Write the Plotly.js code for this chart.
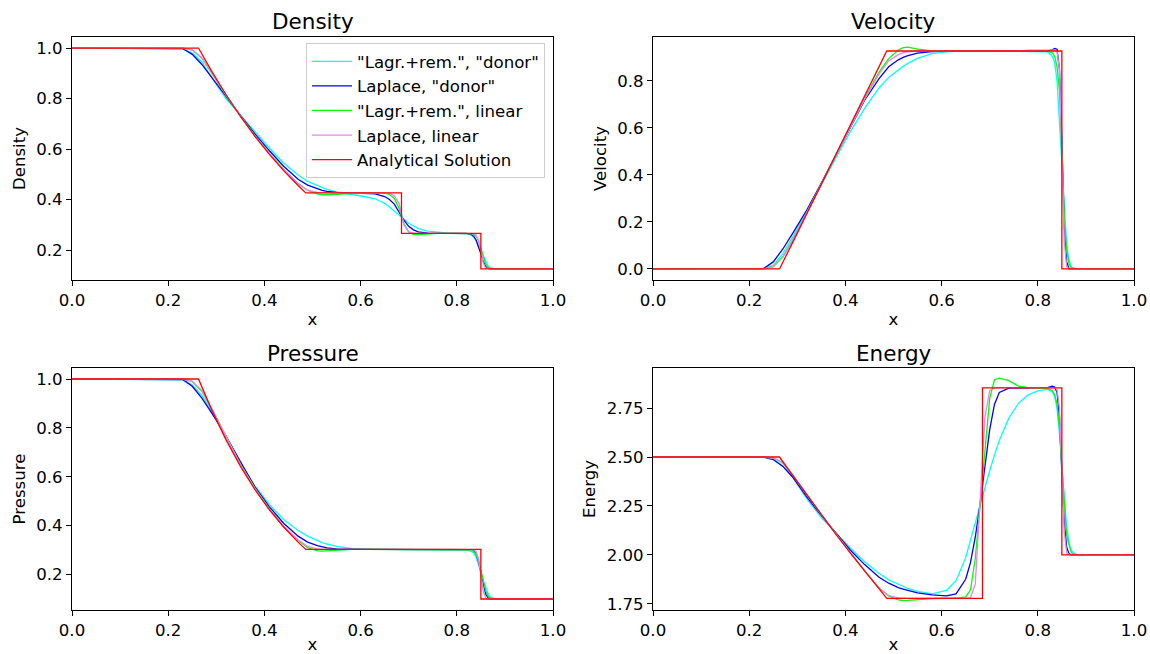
<!DOCTYPE html>
<html><head><meta charset="utf-8">
<script src="https://cdn.plot.ly/plotly-3.0.1.min.js"></script>
<style>html,body{margin:0;padding:0;background:#fff}#chart{width:1150px;height:654px}</style>
</head><body><div id="chart"></div><script>
// ---- data ----
const seriesNames = ['"Lagr.+rem.", "donor"', 'Laplace, "donor"', '"Lagr.+rem.", linear', 'Laplace, linear', 'Analytical Solution'];
const panelTitles = ['Density', 'Velocity', 'Pressure', 'Energy'];
const xTicks = [0, 0.2, 0.4, 0.6, 0.8, 1.0];
const densityTicks = [0.2, 0.4, 0.6, 0.8, 1.0];
const velocityTicks = [0.0, 0.2, 0.4, 0.6, 0.8];
const pressureTicks = [0.2, 0.4, 0.6, 0.8, 1.0];
const energyTicks = [1.75, 2.00, 2.25, 2.50, 2.75];

// numerical solutions (common x grid)
const xGrid = [0, 0.21, 0.23, 0.25, 0.27, 0.29,
  0.32, 0.35, 0.38, 0.41, 0.44, 0.47, 0.49,
  0.51, 0.52, 0.53, 0.55, 0.58, 0.61, 0.63,
  0.65, 0.66, 0.67, 0.68, 0.69, 0.70, 0.71, 0.72,
  0.74, 0.76, 0.78, 0.80, 0.82, 0.83,
  0.835, 0.84, 0.845, 0.85, 0.855, 0.86, 0.865, 0.87, 0.88, 1.0];

const densityLagrDonor = [1, 1, 0.997, 0.980, 0.945, 0.885,
  0.800, 0.735, 0.668, 0.604, 0.545, 0.497, 0.472,
  0.455, 0.447, 0.440, 0.430, 0.421, 0.411, 0.403,
  0.385, 0.370, 0.355, 0.339, 0.322, 0.306, 0.294, 0.285,
  0.275, 0.270, 0.267, 0.266, 0.264, 0.259,
  0.252, 0.238, 0.218, 0.195, 0.172, 0.152, 0.137, 0.129, 0.125, 0.125];
const densityLaplaceDonor = [1, 1, 0.998, 0.975, 0.935, 0.885,
  0.808, 0.733, 0.661, 0.594, 0.532, 0.480, 0.457,
  0.441, 0.436, 0.432, 0.428, 0.426, 0.425, 0.422,
  0.412, 0.400, 0.382, 0.352, 0.318, 0.294, 0.280, 0.272,
  0.267, 0.266, 0.266, 0.266, 0.266, 0.262,
  0.255, 0.240, 0.215, 0.185, 0.155, 0.135, 0.127, 0.125, 0.125, 0.125];
const densityLagrLinear = [1, 1, 1, 0.993, 0.960, 0.903,
  0.813, 0.730, 0.653, 0.584, 0.520, 0.464, 0.436,
  0.422, 0.419, 0.419, 0.421, 0.425, 0.426, 0.426,
  0.425, 0.420, 0.405, 0.365, 0.305, 0.272, 0.262, 0.261,
  0.264, 0.266, 0.266, 0.266, 0.266, 0.265,
  0.262, 0.255, 0.238, 0.205, 0.170, 0.145, 0.130, 0.126, 0.125, 0.125];
const densityLaplaceLinear = [1, 1, 1, 0.992, 0.962, 0.905,
  0.815, 0.731, 0.653, 0.583, 0.519, 0.462, 0.437,
  0.428, 0.427, 0.426, 0.426, 0.426, 0.426, 0.426,
  0.426, 0.424, 0.415, 0.385, 0.300, 0.272, 0.267, 0.266,
  0.266, 0.266, 0.266, 0.266, 0.266, 0.266,
  0.265, 0.260, 0.240, 0.200, 0.150, 0.128, 0.125, 0.125, 0.125, 0.125];

const velocityLagrDonor = [0, 0, 0.001, 0.015, 0.065, 0.135,
  0.245, 0.358, 0.472, 0.583, 0.683, 0.770, 0.815,
  0.848, 0.862, 0.875, 0.896, 0.916, 0.924, 0.926,
  0.927, 0.927, 0.927, 0.927, 0.927, 0.927, 0.927, 0.927,
  0.927, 0.927, 0.927, 0.927, 0.924, 0.905,
  0.880, 0.800, 0.620, 0.420, 0.240, 0.100, 0.035, 0.008, 0, 0];
const velocityLaplaceDonor = [0, 0, 0.002, 0.030, 0.085, 0.150,
  0.252, 0.366, 0.480, 0.600, 0.718, 0.810, 0.860,
  0.890, 0.900, 0.908, 0.918, 0.925, 0.927, 0.927,
  0.927, 0.927, 0.927, 0.927, 0.927, 0.927, 0.927, 0.927,
  0.927, 0.928, 0.929, 0.930, 0.928, 0.932,
  0.938, 0.935, 0.850, 0.550, 0.180, 0.030, 0, 0, 0, 0];
const velocityLagrLinear = [0, 0, 0, 0.010, 0.052, 0.122,
  0.240, 0.362, 0.484, 0.606, 0.726, 0.838, 0.895,
  0.932, 0.942, 0.944, 0.935, 0.928, 0.927, 0.927,
  0.927, 0.927, 0.927, 0.927, 0.927, 0.927, 0.927, 0.927,
  0.927, 0.928, 0.930, 0.929, 0.927, 0.920,
  0.905, 0.860, 0.760, 0.520, 0.220, 0.080, 0.020, 0.003, 0, 0];
const velocityLaplaceLinear = [0, 0, 0, 0.010, 0.050, 0.120,
  0.238, 0.360, 0.482, 0.604, 0.722, 0.830, 0.885,
  0.912, 0.920, 0.924, 0.927, 0.927, 0.927, 0.927,
  0.927, 0.927, 0.927, 0.927, 0.927, 0.927, 0.927, 0.927,
  0.927, 0.928, 0.931, 0.930, 0.930, 0.931,
  0.932, 0.925, 0.850, 0.520, 0.120, 0.010, 0, 0, 0, 0];

const pressureLagrDonor = [1, 1, 0.997, 0.975, 0.933, 0.870,
  0.765, 0.655, 0.563, 0.487, 0.425, 0.380, 0.357,
  0.338, 0.331, 0.325, 0.315, 0.307, 0.304, 0.303,
  0.303, 0.303, 0.303, 0.303, 0.303, 0.303, 0.303, 0.303,
  0.303, 0.303, 0.303, 0.303, 0.300, 0.295,
  0.288, 0.272, 0.245, 0.210, 0.175, 0.145, 0.122, 0.108, 0.101, 0.100];
const pressureLaplaceDonor = [1, 1, 0.998, 0.970, 0.922, 0.862,
  0.768, 0.662, 0.560, 0.478, 0.410, 0.357, 0.333,
  0.318, 0.313, 0.309, 0.305, 0.303, 0.303, 0.303,
  0.303, 0.303, 0.303, 0.303, 0.303, 0.303, 0.303, 0.303,
  0.303, 0.303, 0.303, 0.303, 0.303, 0.302,
  0.298, 0.285, 0.255, 0.205, 0.155, 0.120, 0.105, 0.100, 0.100, 0.100];
const pressureLagrLinear = [1, 1, 1, 0.990, 0.950, 0.880,
  0.765, 0.652, 0.555, 0.470, 0.398, 0.340, 0.310,
  0.297, 0.296, 0.297, 0.300, 0.303, 0.303, 0.303,
  0.303, 0.303, 0.303, 0.303, 0.303, 0.303, 0.303, 0.303,
  0.303, 0.303, 0.303, 0.303, 0.303, 0.300,
  0.295, 0.283, 0.258, 0.215, 0.170, 0.135, 0.112, 0.103, 0.100, 0.100];
const pressureLaplaceLinear = [1, 1, 1, 0.990, 0.952, 0.882,
  0.763, 0.650, 0.553, 0.468, 0.398, 0.342, 0.315,
  0.305, 0.304, 0.303, 0.303, 0.303, 0.303, 0.303,
  0.303, 0.303, 0.303, 0.303, 0.303, 0.303, 0.303, 0.303,
  0.303, 0.303, 0.303, 0.303, 0.303, 0.303,
  0.302, 0.295, 0.265, 0.200, 0.130, 0.105, 0.100, 0.100, 0.100, 0.100];

const energyLagrDonor = [2.5, 2.5, 2.499, 2.488, 2.455, 2.400,
  2.285, 2.190, 2.110, 2.035, 1.965, 1.905, 1.872,
  1.848, 1.838, 1.828, 1.813, 1.800, 1.818, 1.868,
  1.985, 2.075, 2.165, 2.255, 2.345, 2.430, 2.510, 2.585,
  2.700, 2.775, 2.818, 2.838, 2.846, 2.835,
  2.810, 2.750, 2.620, 2.450, 2.280, 2.140, 2.060, 2.020, 2.002, 2.0];
const energyLaplaceDonor = [2.5, 2.5, 2.499, 2.487, 2.452, 2.398,
  2.295, 2.200, 2.110, 2.025, 1.950, 1.885, 1.855,
  1.832, 1.825, 1.818, 1.805, 1.795, 1.790, 1.800,
  1.875, 1.960, 2.090, 2.260, 2.450, 2.640, 2.770, 2.830,
  2.852, 2.853, 2.853, 2.853, 2.855, 2.862,
  2.858, 2.830, 2.700, 2.420, 2.170, 2.040, 2.005, 2.0, 2.0, 2.0];
const energyLagrLinear = [2.5, 2.5, 2.5, 2.495, 2.470, 2.410,
  2.305, 2.205, 2.108, 2.012, 1.918, 1.830, 1.790,
  1.770, 1.766, 1.767, 1.772, 1.776, 1.778, 1.779,
  1.785, 1.820, 1.980, 2.240, 2.520, 2.800, 2.895, 2.903,
  2.890, 2.862, 2.855, 2.853, 2.850, 2.840,
  2.820, 2.770, 2.650, 2.450, 2.250, 2.100, 2.050, 2.010, 2.0, 2.0];
const energyLaplaceLinear = [2.5, 2.5, 2.5, 2.495, 2.472, 2.410,
  2.306, 2.206, 2.108, 2.012, 1.918, 1.830, 1.792,
  1.780, 1.778, 1.777, 1.777, 1.777, 1.777, 1.777,
  1.777, 1.780, 1.850, 2.250, 2.700, 2.840, 2.852, 2.855,
  2.855, 2.855, 2.855, 2.855, 2.855, 2.855,
  2.855, 2.845, 2.750, 2.450, 2.120, 2.010, 2.0, 2.0, 2.0, 2.0];

// analytical solution
const xExact = [0, 0.263, 0.29, 0.32, 0.35, 0.38, 0.41, 0.44, 0.47, 0.486, 0.685, 0.685, 0.850, 0.850, 1.0];
const densityExact = [1, 1, 0.9096, 0.8159, 0.7299, 0.6514, 0.5798, 0.5146, 0.4555, 0.4263, 0.4263, 0.2656, 0.2656, 0.125, 0.125];
const velocityExact = [0, 0, 0.1110, 0.2360, 0.3610, 0.4860, 0.6110, 0.7360, 0.8610, 0.9274, 0.9274, 0.9274, 0.9274, 0, 0];
const pressureExact = [1, 1, 0.8758, 0.7521, 0.6436, 0.5488, 0.4662, 0.3946, 0.3326, 0.3031, 0.3031, 0.3031, 0.3031, 0.1, 0.1];
const energyExact = [2.5, 2.5, 2.4070, 2.3046, 2.2042, 2.1061, 2.0103, 1.9167, 1.8253, 1.7776, 1.7776, 2.8530, 2.8530, 2.0, 2.0];

// ---- styling ----
const colors = ['#00ffff', '#0000ff', '#00ff00', '#ee82ee', '#ff0000'];
const FONT = 'DejaVu Sans, sans-serif';
const FS = 16.6;

const panels = [
  {num: [densityLagrDonor, densityLaplaceDonor, densityLagrLinear, densityLaplaceLinear], exact: densityExact, ticks: densityTicks, fmt: '.1f', range: [0.08125, 1.04375]},
  {num: [velocityLagrDonor, velocityLaplaceDonor, velocityLagrLinear, velocityLaplaceLinear], exact: velocityExact, ticks: velocityTicks, fmt: '.1f', range: [-0.047, 0.987]},
  {num: [pressureLagrDonor, pressureLaplaceDonor, pressureLagrLinear, pressureLaplaceLinear], exact: pressureExact, ticks: pressureTicks, fmt: '.1f', range: [0.055, 1.045]},
  {num: [energyLagrDonor, energyLaplaceDonor, energyLagrLinear, energyLaplaceLinear], exact: energyExact, ticks: energyTicks, fmt: '.2f', range: [1.718, 2.955]}
];

const W = 1150, H = 654;
const boxes = [
  {l: 72, r: 553, t: 37, b: 280},
  {l: 653, r: 1134, t: 37, b: 280},
  {l: 72, r: 553, t: 368, b: 610},
  {l: 653, r: 1134, t: 368, b: 610}
];

const traces = [];
const layout = {
  width: W, height: H,
  margin: {l: 0, r: 0, t: 0, b: 0},
  paper_bgcolor: '#ffffff', plot_bgcolor: '#ffffff',
  font: {family: FONT, size: FS, color: '#000000'},
  showlegend: true,
  legend: {
    x: 545 / W, xanchor: 'right', y: 1 - 43 / H, yanchor: 'top',
    bgcolor: 'rgba(255,255,255,0.8)', bordercolor: '#cccccc', borderwidth: 1,
    font: {family: FONT, size: FS, color: '#000000'},
    traceorder: 'normal', itemwidth: 40
  },
  annotations: []
};

panels.forEach((p, k) => {
  const sfx = k === 0 ? '' : String(k + 1);
  const xaName = 'x' + sfx, yaName = 'y' + sfx;
  p.num.forEach((ys, s) => {
    traces.push({
      type: 'scatter', mode: 'lines', x: xGrid, y: ys, xaxis: xaName, yaxis: yaName,
      name: seriesNames[s], showlegend: k === 0,
      line: {color: colors[s], width: 1.3}, hoverinfo: 'skip'
    });
  });
  traces.push({
    type: 'scatter', mode: 'lines', x: xExact, y: p.exact, xaxis: xaName, yaxis: yaName,
    name: seriesNames[4], showlegend: k === 0,
    line: {color: colors[4], width: 1.3}, hoverinfo: 'skip'
  });
  const b = boxes[k];
  const common = {
    showline: true, mirror: true, linecolor: '#000000', linewidth: 1,
    ticks: 'outside', ticklen: 5, tickwidth: 1, tickcolor: '#000000',
    showgrid: false, zeroline: false,
    tickfont: {family: FONT, size: FS, color: '#000000'}
  };
  layout['xaxis' + sfx] = Object.assign({}, common, {
    domain: [b.l / W, b.r / W], anchor: yaName, range: [0, 1],
    tickvals: xTicks, tickformat: '.1f',
    title: {text: 'x', font: {family: FONT, size: FS, color: '#000000'}, standoff: 4}
  });
  layout['yaxis' + sfx] = Object.assign({}, common, {
    domain: [1 - b.b / H, 1 - b.t / H], anchor: xaName, range: p.range,
    tickvals: p.ticks, tickformat: p.fmt,
    title: {text: panelTitles[k], font: {family: FONT, size: FS, color: '#000000'}, standoff: 6}
  });
  layout.annotations.push({
    text: panelTitles[k], xref: 'paper', yref: 'paper',
    x: (b.l + b.r) / 2 / W, y: 1 - (b.t - 15) / H, xanchor: 'center', yanchor: 'middle',
    showarrow: false, font: {family: FONT, size: 21.5, color: '#000000'}
  });
});

Plotly.newPlot('chart', traces, layout, {staticPlot: true, displayModeBar: false});
</script></body></html>
